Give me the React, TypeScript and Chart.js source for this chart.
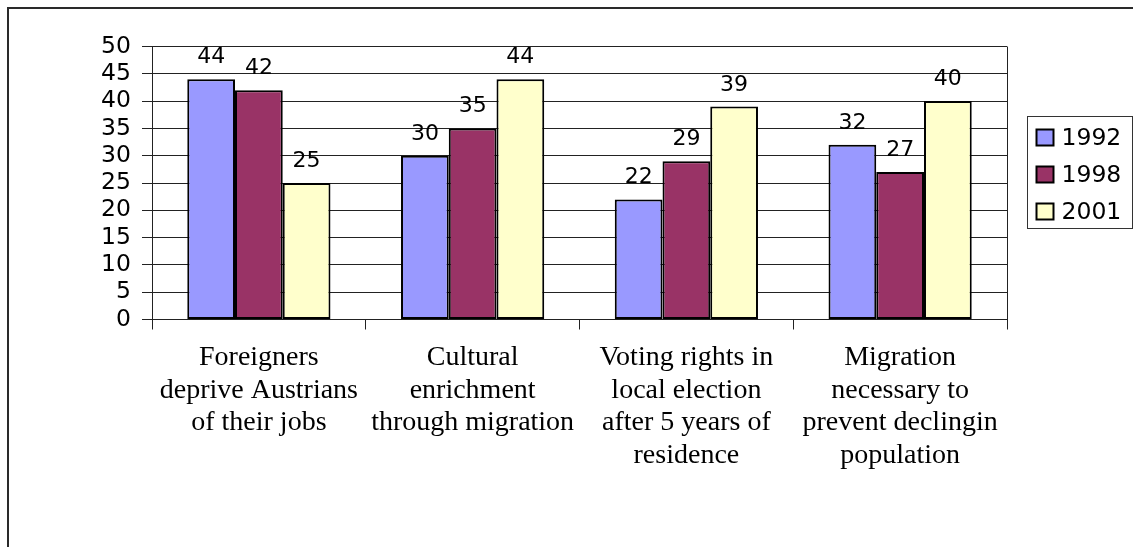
import React, { useEffect, useRef } from "react";
import { Chart, registerables } from "chart.js";

Chart.register(...registerables);

const categories: string[][] = [
  ["Foreigners", "deprive Austrians", "of their jobs"],
  ["Cultural", "enrichment", "through migration"],
  ["Voting rights in", "local election", "after 5 years of", "residence"],
  ["Migration", "necessary to", "prevent declingin", "population"],
];
const seriesNames = ["1992", "1998", "2001"];
const values1992 = [44, 30, 22, 32];
const values1998 = [42, 35, 29, 27];
const values2001 = [25, 44, 39, 40];
const seriesColors = ["#9999FF", "#993366", "#FFFFCC"];
const yMin = 0;
const yMax = 50;
const yStep = 5;

const SANS = "'DejaVu Sans', 'Liberation Sans', Arial, sans-serif";
const SERIF = "'Liberation Serif', 'Times New Roman', serif";

const dataLabelPlugin = {
  id: "dataLabels",
  afterDatasetsDraw(chart: any) {
    const ctx = chart.ctx;
    ctx.save();
    ctx.font = `22px ${SANS}`;
    ctx.fillStyle = "#000";
    ctx.textAlign = "center";
    ctx.textBaseline = "alphabetic";
    chart.data.datasets.forEach((ds: any, di: number) => {
      const meta = chart.getDatasetMeta(di);
      meta.data.forEach((el: any, i: number) => {
        ctx.fillText(String(ds.data[i]), el.x, el.y - 16);
      });
    });
    ctx.restore();
  },
};

const plotBorderPlugin = {
  id: "plotBorder",
  afterDraw(chart: any) {
    const { ctx, chartArea } = chart;
    ctx.save();
    ctx.strokeStyle = "#222";
    ctx.lineWidth = 1;
    ctx.beginPath();
    const x = Math.round(chartArea.right) + 0.5;
    ctx.moveTo(x, chartArea.top);
    ctx.lineTo(x, chartArea.bottom);
    ctx.stroke();
    ctx.restore();
  },
};

const legendBoxPlugin = {
  id: "legendBox",
  afterDraw(chart: any) {
    const { ctx, chartArea } = chart;
    const left = Math.round(chartArea.right) + 20.5;
    const top = 116.5;
    const w = 105;
    const h = 112;
    ctx.save();
    ctx.strokeStyle = "#333";
    ctx.lineWidth = 1;
    ctx.strokeRect(left, top, w, h);
    ctx.font = `23.5px ${SANS}`;
    ctx.textBaseline = "middle";
    ctx.textAlign = "left";
    chart.data.datasets.forEach((ds: any, i: number) => {
      const cy = 137.5 + i * 37;
      ctx.fillStyle = ds.backgroundColor;
      ctx.fillRect(left + 9, cy - 8, 17, 16);
      ctx.strokeStyle = "#000";
      ctx.lineWidth = 2;
      ctx.strokeRect(left + 9, cy - 8, 17, 16);
      ctx.fillStyle = "#000";
      ctx.fillText(ds.label, left + 34, cy + 1);
    });
    ctx.restore();
  },
};

export default function App() {
  const canvasRef = useRef<HTMLCanvasElement | null>(null);

  useEffect(() => {
    if (!canvasRef.current) return;
    const allValues = [values1992, values1998, values2001];
    const chart = new Chart(canvasRef.current, {
      type: "bar",
      data: {
        labels: categories,
        datasets: seriesNames.map((name, i) => ({
          label: name,
          data: allValues[i],
          backgroundColor: seriesColors[i],
          borderColor: "#000",
          borderWidth: 2,
          borderSkipped: false,
          categoryPercentage: 0.67,
          barPercentage: 1.0,
        })),
      },
      options: {
        responsive: false,
        animation: false,
        events: [],
        layout: { padding: { top: 46.5, right: 126, left: 0, bottom: 0 } },
        plugins: {
          legend: { display: false },
          tooltip: { enabled: false },
          title: { display: false },
        },
        scales: {
          x: {
            offset: true,
            grid: {
              display: true,
              drawOnChartArea: false,
              offset: true,
              tickLength: 10,
              color: "#222",
              lineWidth: 1,
            },
            border: { display: true, color: "#222", width: 1 },
            ticks: {
              color: "#000",
              font: { family: SERIF, size: 28, lineHeight: 32.5 / 28 },
              padding: 12,
              maxRotation: 0,
              minRotation: 0,
              autoSkip: false,
            },
            afterFit(scale: any) {
              scale.height = 227.5;
            },
          },
          y: {
            min: yMin,
            max: yMax,
            ticks: {
              stepSize: yStep,
              autoSkip: false,
              color: "#000",
              font: { family: SANS, size: 23.5 },
              padding: 11,
            },
            grid: {
              color: "#222",
              lineWidth: 1,
              tickLength: 10,
            },
            border: { display: true, color: "#222", width: 1 },
            afterFit(scale: any) {
              scale.width = 152;
            },
          },
        },
      },
      plugins: [dataLabelPlugin, plotBorderPlugin, legendBoxPlugin],
    });
    return () => chart.destroy();
  }, []);

  return (
    <div
      style={{
        position: "fixed",
        left: 0,
        top: 0,
        width: 1133,
        height: 547,
        overflow: "hidden",
        background: "#fff",
      }}
    >
      <div
        style={{
          position: "absolute",
          left: 7,
          top: 7,
          width: 3000,
          height: 3000,
          borderTop: "2px solid #2a2a2a",
          borderLeft: "2px solid #2a2a2a",
        }}
      />
      <canvas
        ref={canvasRef}
        width={1133}
        height={547}
        style={{ position: "absolute", left: 0, top: 0, width: 1133, height: 547 }}
      />
    </div>
  );
}
